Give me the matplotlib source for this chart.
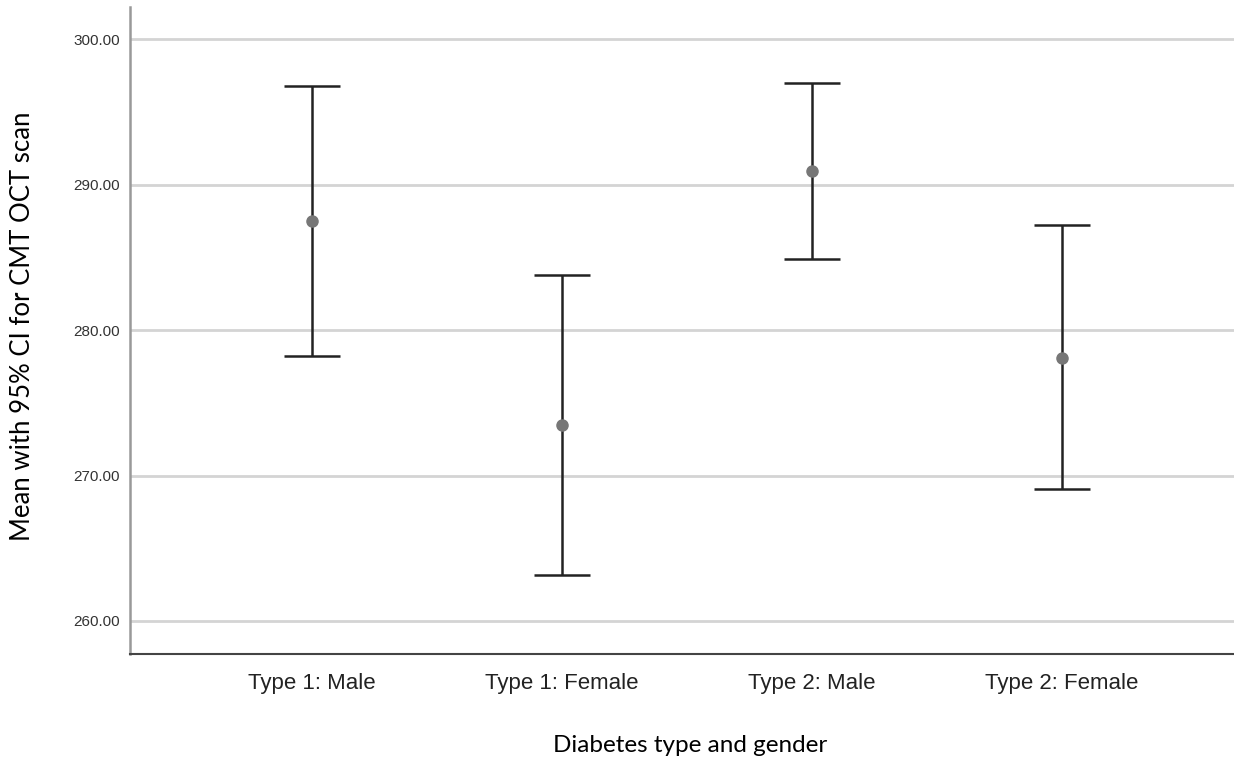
import numpy as np
import matplotlib.pyplot as plt

# group labels and mean / 95% CI
groups = ['Type 1: Male', 'Type 1: Female', 'Type 2: Male', 'Type 2: Female']
means = [287.48, 273.46, 290.92, 278.11]
ci_low = [278.20, 263.19, 284.90, 269.06]
ci_high = [296.79, 283.75, 296.97, 287.20]
yticks = [260, 270, 280, 290, 300]

means = np.array(means)
err = np.array([means - np.array(ci_low), np.array(ci_high) - means])
x = np.arange(len(groups))

W, H = 1234, 762
fig = plt.figure(figsize=(W / 100, H / 100), dpi=100)
ax = fig.add_axes([0.1053, 0.1417, 0.8947, 0.8491])

# gridlines
for t in yticks:
    ax.axhline(t, color='#d4d4d4', lw=2, zorder=0)

ax.errorbar(x, means, yerr=err, fmt='none', ecolor='#222222',
            elinewidth=1.8, capsize=20, capthick=1.8, zorder=2)
ax.plot(x, means, 'o', color='#777777', markersize=8, zorder=3)

ax.set_xlim(-0.728, 3.688)
ax.set_ylim(257.73, 302.2)
ax.set_yticks(yticks)
ax.set_yticklabels(['%.2f' % t for t in yticks], fontsize=11,
                   family='Liberation Sans', color='#333333')
ax.set_xticks(x)
ax.set_xticklabels(groups, fontsize=16, family='Liberation Sans', color='#222222')
ax.tick_params(axis='both', length=0)
ax.tick_params(axis='x', pad=14)
ax.tick_params(axis='y', pad=7)

ax.spines['top'].set_visible(False)
ax.spines['right'].set_visible(False)
ax.spines['left'].set_color('#999999')
ax.spines['left'].set_linewidth(1.8)
ax.spines['bottom'].set_color('#444444')
ax.spines['bottom'].set_linewidth(1.5)

# axis titles placed in figure pixels
fig.text(690 / W, 1 - 752 / H, 'Diabetes type and gender', fontsize=17.5,
         family='Lato', ha='center', va='baseline')
fig.text(23 / W, 1 - 326 / H, 'Mean with 95% CI for CMT OCT scan', fontsize=18.5,
         family='Lato', ha='center', va='center', rotation=90)

fig.savefig('out.png', dpi=100)
